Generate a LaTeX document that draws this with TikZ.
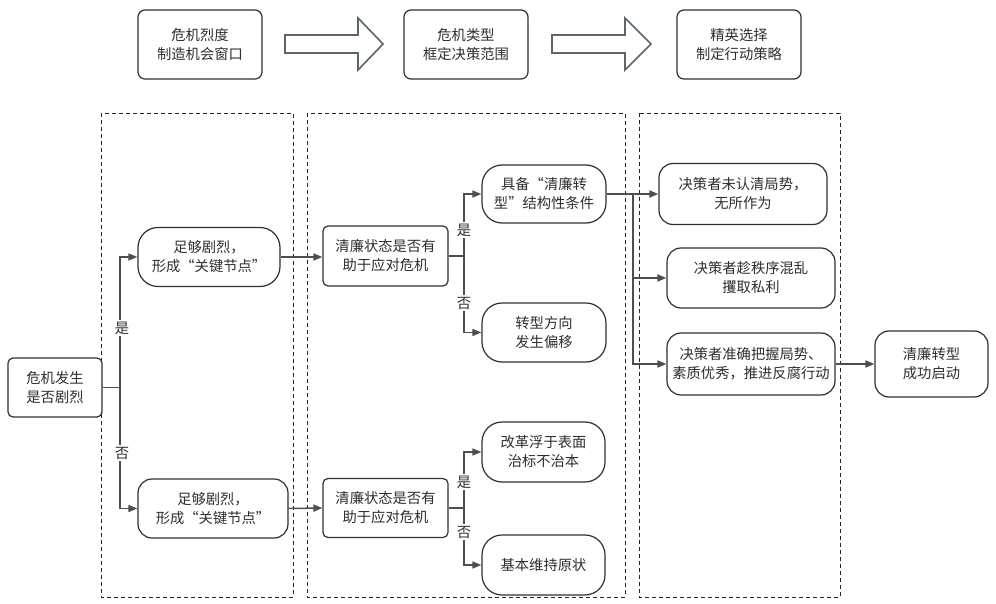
\documentclass[tikz,border=0pt]{standalone}
\usepackage{fontspec}
\setmainfont{Noto Sans CJK SC}
\usetikzlibrary{arrows.meta}
\definecolor{txt}{HTML}{2E2E2E}
\definecolor{ln}{HTML}{4A4F52}
\definecolor{bd}{HTML}{303030}
\definecolor{blk}{HTML}{5A666C}
\begin{document}
\begin{tikzpicture}[x=1pt,y=-1pt,
  font=\fontsize{14.3}{19}\selectfont, text=txt,
  box/.style={draw=bd, line width=1.2pt, fill=white, align=center, inner sep=0pt},
  r1/.style={box, rounded corners=7pt},
  r2/.style={box, rounded corners=20pt},
  r3/.style={box, rounded corners=14pt},
  r4/.style={box, rounded corners=5pt},
  arr/.style={draw=ln, line width=1.5pt, -{Triangle[length=9pt,width=7pt]}},
  conn/.style={draw=ln, line width=1.5pt},
  lab/.style={fill=white, inner sep=1.5pt, text=txt},
  frame/.style={draw=black!85, line width=0.9pt, dash pattern=on 4pt off 3pt},
  blockarr/.style={draw=blk, line width=1.6pt, fill=white, line join=miter}]
\useasboundingbox (0,0) rectangle (996,604);
\fill[white] (0,0) rectangle (996,604);

% dashed frames
\draw[frame] (101,113) rectangle (293,597);
\draw[frame] (307,113) rectangle (625,597);
\draw[frame] (639,113) rectangle (840,597);

% top row
\node[r1, minimum width=124pt, minimum height=69pt] (t1) at (200,44.5) {危机烈度\\制造机会窗口};
\node[r1, minimum width=124pt, minimum height=69pt] (t2) at (466,44.5) {危机类型\\框定决策范围};
\node[r1, minimum width=124pt, minimum height=69pt] (t3) at (739,44.5) {精英选择\\制定行动策略};
\draw[blockarr] (285,35) -- (358,35) -- (358,18) -- (383,44) -- (358,70) -- (358,53) -- (285,53) -- cycle;
\draw[blockarr] (552,35) -- (625,35) -- (625,18) -- (651,44) -- (625,70) -- (625,53) -- (552,53) -- cycle;

% nodes
\node[r4, minimum width=94pt, minimum height=59pt] (s) at (55,387.5) {危机发生\\是否剧烈};
\node[r2, minimum width=142pt, minimum height=59pt] (a1) at (209,257) {足够剧烈，\\形成“关键节点”};
\node[r3, minimum width=150pt, minimum height=59pt] (a2) at (213,508.5) {足够剧烈，\\形成“关键节点”};
\node[r4, minimum width=125pt, minimum height=60pt] (b1) at (385.5,256) {清廉状态是否有\\助于应对危机};
\node[r4, minimum width=125pt, minimum height=59pt] (b2) at (385.5,508) {清廉状态是否有\\助于应对危机};
\node[r2, minimum width=124pt, minimum height=58pt] (c1) at (544,194) {具备“清廉转\\型”结构性条件};
\node[r2, minimum width=124pt, minimum height=59pt] (c2) at (544,332.5) {转型方向\\发生偏移};
\node[r2, minimum width=123pt, minimum height=60pt] (c3) at (543.5,452) {改革浮于表面\\治标不治本};
\node[r2, minimum width=123pt, minimum height=60pt] (c4) at (543.5,565) {基本维持原状};
\node[r3, minimum width=168pt, minimum height=61pt] (d1) at (743,194) {决策者未认清局势，\\无所作为};
\node[r3, minimum width=168pt, minimum height=60pt] (d2) at (751,278) {决策者趁秩序混乱\\攫取私利};
\node[r3, minimum width=168pt, minimum height=62pt] (d3) at (751,364) {决策者准确把握局势、\\素质优秀，推进反腐行动};
\node[r3, minimum width=113pt, minimum height=66pt] (e) at (931.5,364) {清廉转型\\成功启动};

% first branch
\coordinate (j0) at (120,387.5);
\draw[conn] (s.east) -- (j0);
\draw[arr] (j0) |- (a1.west);
\draw[arr] (j0) |- (a2.west);
\node[lab] at (122,328) {是};
\node[lab] at (122,453) {否};

% to second column
\draw[arr] (a1.east) -- (a1.east -| b1.west);
\draw[arr] (a2.east) -- (b2.west);

% second branches
\coordinate (j1) at (464,256);
\draw[conn] (b1.east) -- (j1);
\draw[arr] (j1) |- (c1.west);
\draw[arr] (j1) |- (c2.west);
\node[lab] at (464,230) {是};
\node[lab] at (464,303) {否};

\coordinate (j2) at (464,508);
\draw[conn] (b2.east) -- (j2);
\draw[arr] (j2) |- (c3.west);
\draw[arr] (j2) |- (c4.west);
\node[lab] at (464,482) {是};
\node[lab] at (464,532) {否};

% third column
\coordinate (j3) at (633,194);
\draw[arr] (c1.east) -- (d1.west);
\draw[arr] (j3) |- (d2.west);
\draw[arr] (j3) |- (d3.west);
\draw[arr] (d3.east) -- (e.west);
\end{tikzpicture}
\end{document}
